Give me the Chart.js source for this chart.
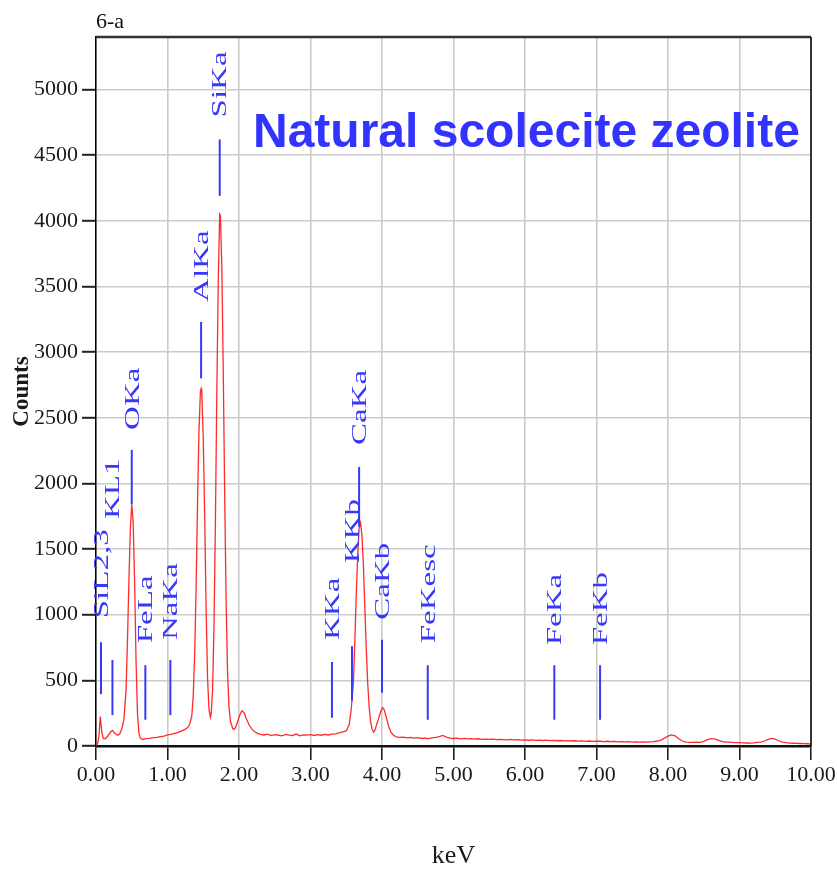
<!DOCTYPE html>
<html>
<head>
<meta charset="utf-8">
<title>EDS spectrum - natural scolecite zeolite</title>
<script src="https://cdn.jsdelivr.net/npm/chart.js@4.4.1/dist/chart.umd.min.js"></script>
<style>
  html, body { margin: 0; padding: 0; background: #fff; }
  canvas { display: block; }
</style>
</head>
<body>
<canvas id="eds" width="837" height="874"></canvas>
<script>
// spectrum (keV / counts)
const spectrumKeV = [
  0.00, 0.02, 0.04, 0.06, 0.08, 0.10, 0.13, 0.16, 0.20, 0.23, 0.26, 0.30, 0.33, 0.36,
  0.39, 0.42, 0.44, 0.46, 0.48, 0.50, 0.52, 0.54, 0.56, 0.58, 0.60, 0.62, 0.65,
  0.70, 0.75, 0.80, 0.85, 0.90, 0.95, 1.00, 1.05, 1.10, 1.15, 1.20, 1.25, 1.28,
  1.31, 1.34, 1.36, 1.38, 1.40, 1.42, 1.44, 1.46, 1.47, 1.48, 1.50, 1.52, 1.54, 1.56, 1.58, 1.60,
  1.61, 1.63, 1.65, 1.67, 1.69, 1.71, 1.73, 1.74, 1.76, 1.78, 1.80, 1.82, 1.84, 1.86, 1.88, 1.91, 1.93,
  1.95, 1.98, 2.01, 2.04, 2.07, 2.10, 2.14, 2.18, 2.22, 2.26, 2.30,
  2.35, 2.40, 2.45, 2.50, 2.55, 2.60, 2.65, 2.70, 2.75, 2.80, 2.85, 2.90, 2.95,
  3.00, 3.05, 3.10, 3.15, 3.20, 3.25, 3.30, 3.35, 3.40, 3.45, 3.50,
  3.54, 3.57, 3.60, 3.62, 3.64, 3.66, 3.68, 3.70, 3.72, 3.74, 3.76, 3.78, 3.80, 3.82, 3.84, 3.86, 3.88,
  3.90, 3.92, 3.95, 3.98, 4.01, 4.03, 4.06, 4.09, 4.12, 4.16, 4.20,
  4.25, 4.30, 4.35, 4.40, 4.45, 4.50, 4.55, 4.60, 4.65, 4.70, 4.75, 4.80, 4.85, 4.90, 4.95,
  5.00, 5.05, 5.10, 5.15, 5.20, 5.25, 5.30, 5.35, 5.40, 5.45, 5.50, 5.55, 5.60, 5.65, 5.70, 5.75, 5.80, 5.85, 5.90, 5.95,
  6.00, 6.05, 6.10, 6.15, 6.20, 6.25, 6.30, 6.35, 6.40, 6.45, 6.50, 6.55, 6.60, 6.65, 6.70, 6.75, 6.80, 6.85, 6.90, 6.95,
  7.00, 7.05, 7.10, 7.15, 7.20, 7.25, 7.30, 7.35, 7.40, 7.45, 7.50, 7.55, 7.60, 7.65, 7.70, 7.75, 7.80, 7.85, 7.90, 7.95,
  8.00, 8.05, 8.10, 8.15, 8.20, 8.25, 8.30, 8.35, 8.40, 8.45, 8.50, 8.55, 8.60, 8.65, 8.70, 8.75, 8.80, 8.85, 8.90, 8.95,
  9.00, 9.05, 9.10, 9.15, 9.20, 9.25, 9.30, 9.35, 9.40, 9.45, 9.50, 9.55, 9.60, 9.65, 9.70, 9.75, 9.80, 9.85, 9.90, 9.95, 10.00
];
const spectrumCounts = [
  0, 15, 70, 225, 110, 60, 55, 72, 105, 118, 98, 82, 90, 130,
  200, 420, 800, 1250, 1650, 1840, 1700, 1250, 650, 250, 100, 60, 50,
  56, 58, 63, 66, 72, 76, 84, 88, 96, 104, 115, 128, 140,
  165, 230, 380, 700, 1200, 1850, 2400, 2700, 2720, 2680, 2350, 1750, 1050, 520, 280, 218,
  240, 420, 900, 1700, 2700, 3550, 4050, 4040, 3650, 2850, 1900, 1100, 560, 300, 190, 135, 125,
  140, 185, 235, 268, 255, 212, 162, 128, 108, 96, 88,
  84, 90, 79, 86, 82, 77, 88, 83, 80, 91, 78, 85, 83,
  87, 80, 86, 82, 89, 84, 90, 92, 100, 108, 115,
  160, 280, 480, 800, 1150, 1450, 1660, 1700, 1600, 1380, 1050, 740, 480, 300, 190, 130, 105,
  118, 155, 205, 260, 292, 278, 220, 155, 110, 82, 70,
  66, 68, 62, 65, 60, 64, 58, 60, 56, 62, 66, 72, 80, 68, 60,
  57, 60, 55, 58, 54, 56, 52, 55, 51, 53, 50, 52, 48, 51, 49, 47, 50, 46, 48, 45,
  47, 44, 46, 43, 45, 42, 44, 41, 43, 40, 42, 39, 41, 38, 40, 37, 39, 36, 38, 35,
  37, 36, 34, 36, 33, 35, 32, 34, 31, 33, 30, 32, 29, 31, 30, 32, 34, 38, 45, 60,
  75, 85, 78, 55, 38, 30, 28, 27, 29, 28, 35, 48, 55, 54, 45, 35, 30, 29, 27, 26,
  25, 24, 23, 22, 24, 27, 30, 38, 50, 58, 52, 40, 30, 25, 22, 21, 20, 19, 18, 17, 15
];

// element line markers
const peakNames = ['SiL2,3', 'KL1', 'OKa', 'FeLa', 'NaKa', 'AlKa', 'SiKa', 'KKa', 'KKb', 'CaKa', 'CaKb', 'FeKesc', 'FeKa', 'FeKb'];
const peakKeV   = [0.07, 0.23, 0.50, 0.69, 1.04, 1.47, 1.73, 3.30, 3.58, 3.68, 4.00, 4.64, 6.41, 7.05];
const peakLow   = [395, 235, 1840, 200, 235, 2800, 4190, 215, 345, 1670, 405, 200, 200, 200];
const peakHigh  = [790, 655, 2255, 615, 655, 3230, 4620, 640, 760, 2125, 810, 615, 615, 615];

// axes
const xTicks = [0, 1, 2, 3, 4, 5, 6, 7, 8, 9, 10];
const yTicks = [0, 500, 1000, 1500, 2000, 2500, 3000, 3500, 4000, 4500, 5000];
const yMax = 5400;

// gap (px) between marker top and its label
const labelLift = [24, 141, 20, 22, 20, 20, 22, 22, 83, 22, 20, 22, 20, 20];

const serif = '"Liberation Serif", "Times New Roman", serif';
const blue = '#3838fa';

const spectrum = spectrumKeV.map((k, i) => ({ x: k, y: spectrumCounts[i] }));

const markerSets = peakNames.map((name, i) => ({
  label: name,
  data: [{ x: peakKeV[i], y: peakLow[i] }, { x: peakKeV[i], y: peakHigh[i] }],
  borderColor: blue,
  borderWidth: 2,
  pointRadius: 0
}));

const decorations = {
  id: 'decorations',
  afterDatasetsDraw(chart) {
    const { ctx, chartArea, scales: { x, y } } = chart;
    ctx.save();

    // frame top + right
    ctx.strokeStyle = '#333';
    ctx.lineWidth = 2.5;
    ctx.beginPath();
    ctx.moveTo(chartArea.left, chartArea.top);
    ctx.lineTo(chartArea.right, chartArea.top);
    ctx.stroke();
    ctx.strokeStyle = '#000';
    ctx.lineWidth = 1.5;
    ctx.beginPath();
    ctx.moveTo(chartArea.right, chartArea.top);
    ctx.lineTo(chartArea.right, chartArea.bottom);
    ctx.stroke();

    // peak labels, vertical
    ctx.fillStyle = blue;
    ctx.font = '22px ' + serif;
    ctx.textAlign = 'left';
    ctx.textBaseline = 'middle';
    peakNames.forEach((name, i) => {
      const px = x.getPixelForValue(peakKeV[i]);
      const py = y.getPixelForValue(peakHigh[i]) - labelLift[i];
      ctx.save();
      ctx.translate(px + 1, py);
      ctx.rotate(-Math.PI / 2);
      ctx.scale(1.5, 1);
      ctx.fillText(name, 0, 0);
      ctx.restore();
    });

    // sample name
    ctx.fillStyle = '#3333ff';
    ctx.font = 'bold 48px "Liberation Sans", Arial, sans-serif';
    ctx.textBaseline = 'alphabetic';
    ctx.fillText('Natural scolecite zeolite', 253, 147);

    // panel tag
    ctx.fillStyle = '#111';
    ctx.font = '22px ' + serif;
    ctx.fillText('6-a', chartArea.left, 28);

    ctx.restore();
  }
};

new Chart(document.getElementById('eds'), {
  type: 'line',
  data: {
    datasets: [
      ...markerSets,
      {
        label: 'Spectrum',
        data: spectrum,
        borderColor: 'rgba(255, 20, 20, 0.9)',
        borderWidth: 1.3,
        pointRadius: 0,
        tension: 0
      }
    ]
  },
  options: {
    responsive: false,
    devicePixelRatio: 1,
    animation: false,
    layout: { padding: { top: 37, right: 26, left: 0, bottom: 0 } },
    plugins: { legend: { display: false }, tooltip: { enabled: false } },
    scales: {
      x: {
        type: 'linear',
        min: 0,
        max: 10,
        afterBuildTicks: s => { s.ticks = xTicks.map(v => ({ value: v })); },
        afterFit: s => { s.height = 128; s.paddingLeft = 0; s.paddingRight = 0; },
        ticks: {
          color: '#1a1a1a',
          font: { family: serif, size: 22 },
          padding: 2,
          maxRotation: 0,
          callback: v => Number(v).toFixed(2)
        },
        grid: { color: '#cbcbcb', lineWidth: 1.6, tickLength: 14, tickColor: '#111', tickWidth: 1.5 },
        border: { color: '#111', width: 2.5 },
        title: { display: true, text: 'keV', color: '#1a1a1a', font: { family: serif, size: 26 }, padding: { top: 0, bottom: 2 } }
      },
      y: {
        min: 0,
        max: yMax,
        afterBuildTicks: s => { s.ticks = yTicks.map(v => ({ value: v })); },
        afterFit: s => { s.width = 96; s.paddingTop = 0; s.paddingBottom = 0; },
        ticks: {
          color: '#1a1a1a',
          font: { family: serif, size: 22 },
          padding: 4,
          callback: v => String(v)
        },
        grid: { color: '#cbcbcb', lineWidth: 1.6, tickLength: 14, tickColor: '#222', tickWidth: 2 },
        border: { color: '#000', width: 1.5 },
        title: { display: true, text: 'Counts', color: '#1a1a1a', font: { family: serif, size: 23, weight: 'bold' }, padding: { top: 8, bottom: 0 } }
      }
    }
  },
  plugins: [decorations]
});
</script>
</body>
</html>
